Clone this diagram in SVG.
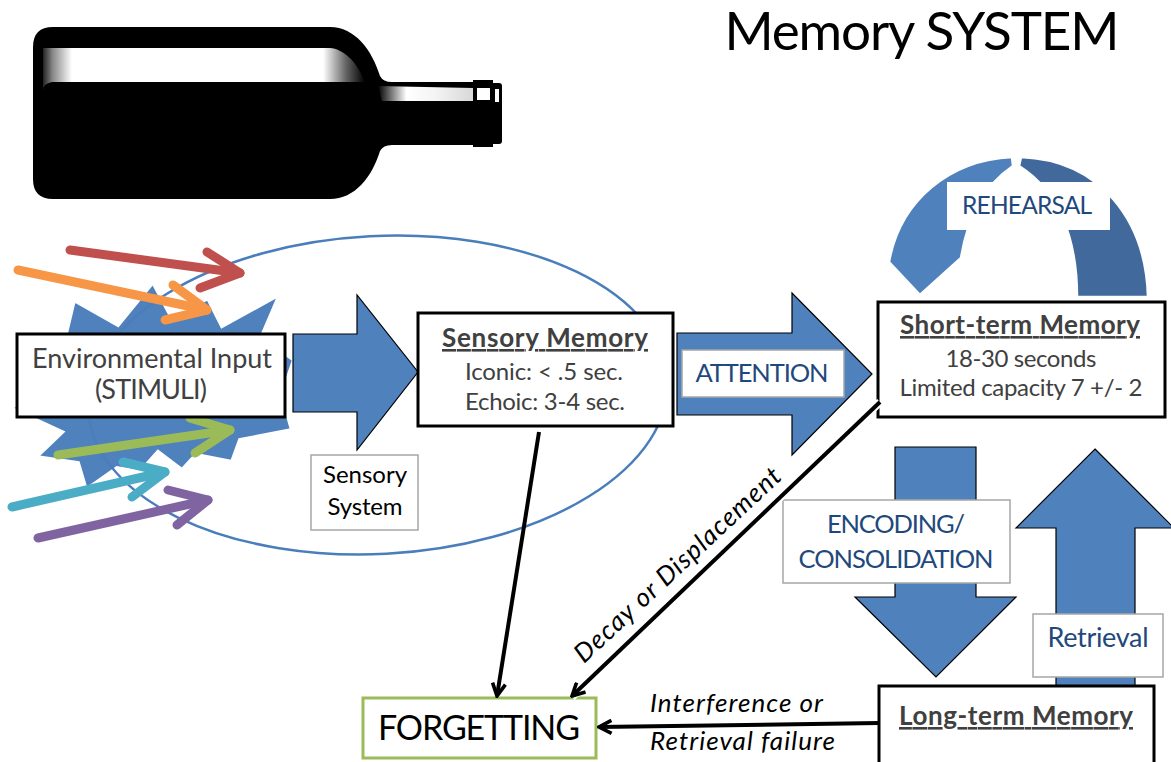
<svg xmlns="http://www.w3.org/2000/svg" width="1171" height="762" viewBox="0 0 1171 762">
<defs>
<linearGradient id="bandG" x1="43" y1="0" x2="365" y2="0" gradientUnits="userSpaceOnUse">
<stop offset="0" stop-color="#222"/><stop offset="0.03" stop-color="#888"/><stop offset="0.09" stop-color="#fff"/><stop offset="0.87" stop-color="#fff"/><stop offset="0.94" stop-color="#666"/><stop offset="1" stop-color="#000"/>
</linearGradient>
<linearGradient id="neckG" x1="378" y1="0" x2="473" y2="0" gradientUnits="userSpaceOnUse">
<stop offset="0" stop-color="#000"/><stop offset="0.3" stop-color="#fff"/><stop offset="0.6" stop-color="#f4f4f4"/><stop offset="1" stop-color="#d8d8d8"/>
</linearGradient>
<marker id="vhead" viewBox="0 0 16 16" refX="14" refY="8" markerWidth="16" markerHeight="16" markerUnits="userSpaceOnUse" orient="auto">
<path d="M1.5,1.5 L14,8 L1.5,14.5" fill="none" stroke="#000" stroke-width="3.6" stroke-linejoin="miter"/>
</marker>
</defs>
<style>
.box{fill:#fff;stroke:#000;stroke-width:3}
.lbl{fill:#fff;stroke:#a6a6a6;stroke-width:1.5}
.big{fill:#4f81bd;stroke:#000;stroke-width:1.2;stroke-linejoin:miter}
.t{font-family:Lato,"Liberation Sans",sans-serif;text-anchor:middle}
.g{fill:#404040}
.b{fill:#1f497d}
.k{fill:#000}
.bold{font-weight:bold;text-decoration:underline}
.it{font-style:italic;font-family:Lato,"Liberation Sans",sans-serif}
.conn{stroke:#000;stroke-width:4;fill:none;marker-end:url(#vhead)}
.stim{fill:none;stroke-width:9;stroke-linecap:round;stroke-linejoin:round}
</style>
<rect width="1171" height="762" fill="#fff"/>

<g id="bottle">
<path d="M53,27 L330,27 C355,27 372,50 380,76 Q383,82 392,82 L473,82 L473,80 L493,80 L493,83 L499,83 Q502,83 502,86 L502,141 Q502,144 499,144 L493,144 L493,147 L473,147 L473,145 L392,145 Q383,145 380,151 C372,177 355,199 330,199 L53,199 Q33,199 33,179 L33,47 Q33,27 53,27 Z" fill="#000"/>
<path d="M43,48 L330,48 C343,49 356,60 365,82 L52,82 Q43,84 43,90 Z" fill="url(#bandG)"/>
<path d="M378,86 L473,88 L473,101 L382,101 Z" fill="url(#neckG)"/>
<rect x="477" y="88" width="13" height="12" fill="#fff"/>
<rect x="495" y="89" width="4" height="13" fill="#fff"/>
</g>

<g id="title"><text class="t k" x="922" y="50" font-size="53" textLength="395">Memory SYSTEM</text></g>

<g id="starburst">
<polygon points="153,282 172,318 208,298 222,326 280,294 262,336 294,360 282,395 292,430 240,440 232,462 196,455 182,470 158,452 140,472 117,468 86,490 78,463 36,457 62,432 10,408 40,392 26,364 62,350 74,300 118,325" fill="#4f81bd" stroke="#fff" stroke-width="4" stroke-linejoin="miter"/>
</g>

<g id="sensory-ellipse"><ellipse cx="378" cy="395" rx="290" ry="159" transform="rotate(-3 378 395)" fill="none" stroke="#4a7ebb" stroke-width="2.5"/></g>

<g id="stimuli">
<line class="stim" x1="70" y1="250" x2="240" y2="273" stroke="#c0504d"/>
<polyline class="stim" points="207,252 240,273 200,288" stroke="#c0504d"/>
<line class="stim" x1="18" y1="270" x2="207" y2="310" stroke="#f79646"/>
<polyline class="stim" points="173,285 207,310 165,320" stroke="#f79646"/>
<line class="stim" x1="58" y1="455" x2="230" y2="430" stroke="#9bbb59"/>
<polyline class="stim" points="190,418 230,430 195,453" stroke="#9bbb59"/>
<line class="stim" x1="12" y1="507" x2="165" y2="472" stroke="#4bacc6"/>
<polyline class="stim" points="123,462 165,472 132,497" stroke="#4bacc6"/>
<line class="stim" x1="38" y1="538" x2="208" y2="500" stroke="#8064a2"/>
<polyline class="stim" points="168,490 208,500 177,525" stroke="#8064a2"/>
</g>

<g id="sensory-system-arrow"><polygon class="big" points="293,334 357,334 357,295 418,372 357,450 357,412 293,412"/></g>

<g id="environmental-input">
<rect class="box" x="17" y="334" width="268" height="83"/>
<text class="t g" x="152" y="368" font-size="27" textLength="240">Environmental Input</text>
<text class="t g" x="151" y="399" font-size="27" textLength="112">(STIMULI)</text>
</g>

<g id="sensory-system">
<rect class="lbl" x="311" y="455" width="107" height="75"/>
<text class="t k" x="365" y="483" font-size="24" textLength="84">Sensory</text>
<text class="t k" x="365" y="515" font-size="24" textLength="75">System</text>
</g>

<g id="sensory-memory">
<rect class="box" x="418" y="313" width="255" height="113"/>
<text class="t g bold" x="545" y="347" font-size="26" textLength="206">Sensory Memory</text>
<text class="t g" x="544" y="380" font-size="24" textLength="158">Iconic: &lt; .5 sec.</text>
<text class="t g" x="545" y="410" font-size="24" textLength="160">Echoic: 3-4 sec.</text>
</g>

<g id="attention">
<polygon class="big" points="677,333 792,333 792,293 872,374 792,455 792,415 677,415"/>
<rect class="lbl" x="682" y="350" width="162" height="47"/>
<text class="t b" x="762" y="382" font-size="25.5" textLength="133">ATTENTION</text>
</g>

<g id="rehearsal">
<path d="M1012,157 C950,160 900,200 889,262 L920,295 L961,258 C968,215 985,185 1013,166 Z" fill="#4f81bd" stroke="#fff" stroke-width="2.5" stroke-linejoin="miter"/>
<path d="M1021,157 C1100,160 1146,220 1148,297 L1077,297 C1077,240 1060,192 1019,166 Z" fill="#41699c" stroke="#fff" stroke-width="2.5"/>
<rect x="947" y="182" width="163" height="48" fill="#fff"/>
<text class="t b" x="1027" y="214" font-size="24.5" textLength="130">REHEARSAL</text>
</g>

<g id="short-term-memory">
<rect class="box" x="878" y="302" width="287" height="115"/>
<text class="t g bold" x="1020" y="334" font-size="26" textLength="240">Short-term Memory</text>
<text class="t g" x="1021" y="367" font-size="24" textLength="151">18-30 seconds</text>
<text class="t g" x="1021" y="396" font-size="24" textLength="243">Limited capacity 7 +/- 2</text>
</g>

<g id="encoding">
<polygon class="big" points="895,447 976,447 976,597 1016,597 936,677 855,597 895,597"/>
<rect class="lbl" x="783" y="500" width="227" height="83"/>
<text class="t b" x="896" y="533" font-size="25.5" textLength="138">ENCODING/</text>
<text class="t b" x="896" y="568" font-size="25.5" textLength="195">CONSOLIDATION</text>
</g>

<g id="retrieval">
<polygon class="big" points="1095,449 1174,528 1135,528 1135,690 1056,690 1056,528 1016,528"/>
<rect class="lbl" x="1033" y="614" width="130" height="63"/>
<text class="t b" x="1098" y="647" font-size="27" textLength="101">Retrieval</text>
</g>

<g id="long-term-memory">
<rect class="box" x="879" y="686" width="275" height="90"/>
<text class="t g bold" x="1016" y="725" font-size="26" textLength="234">Long-term Memory</text>
</g>

<g id="forgetting">
<rect x="363" y="698" width="233" height="60" fill="#fff" stroke="#9bbb59" stroke-width="3"/>
<text class="t k" x="479" y="740" font-size="34" textLength="202">FORGETTING</text>
</g>

<g id="connectors">
<line class="conn" x1="539" y1="432" x2="497" y2="696"/>
<line x1="880" y1="402" x2="572" y2="697" stroke="#fff" stroke-width="8"/>
<line class="conn" x1="880" y1="402" x2="572" y2="696"/>
<line class="conn" x1="879" y1="723" x2="599" y2="727"/>
<text class="k it" x="584" y="664" font-size="26" textLength="272" transform="rotate(-43 584 664)">Decay or Displacement</text>
<text class="k it" x="650" y="712" font-size="26" textLength="173">Interference or</text>
<text class="k it" x="650" y="750" font-size="26" textLength="185">Retrieval failure</text>
</g>
</svg>
